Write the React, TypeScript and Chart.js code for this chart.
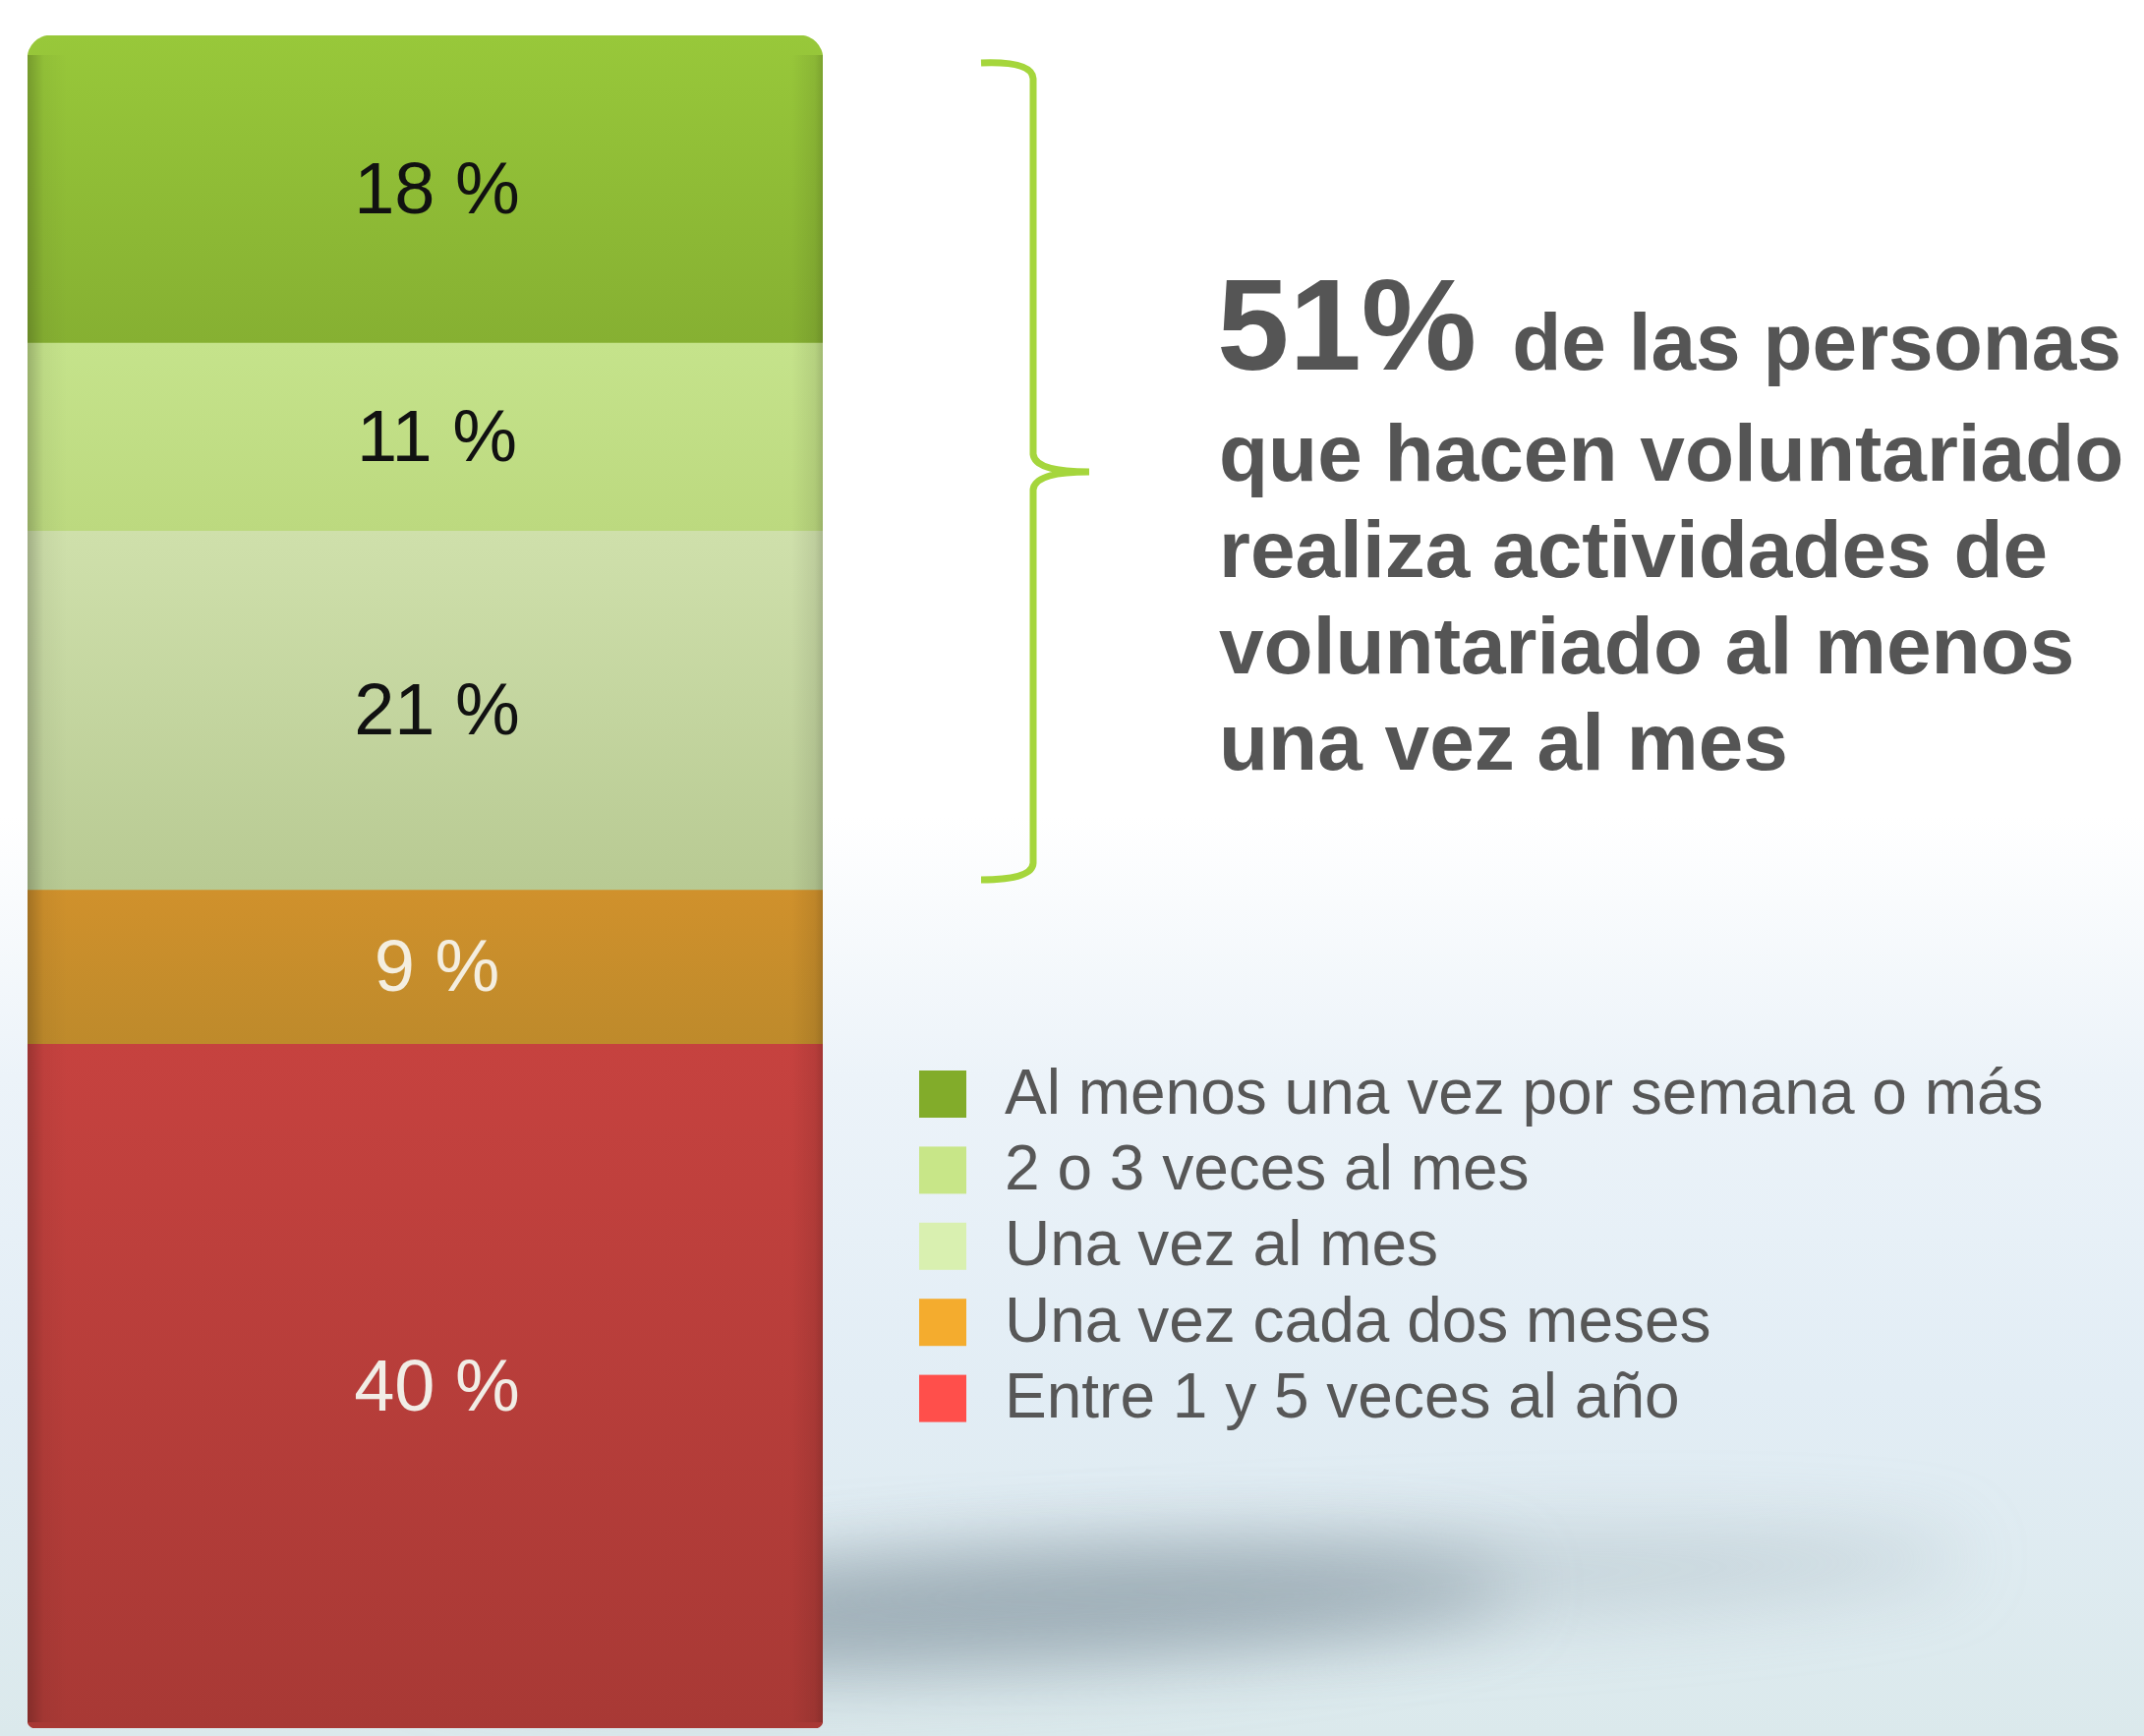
import React, { useEffect, useRef } from "react";
import { Chart, registerables } from "chart.js";

Chart.register(...registerables);

// ---- data ----
const categories = ["Frecuencia"];
// stacked from bottom to top
const seriesLabels = [
  "Entre 1 y 5 veces al año",
  "Una vez cada dos meses",
  "Una vez al mes",
  "2 o 3 veces al mes",
  "Al menos una vez por semana o más",
];
const seriesValues = [40, 9, 21, 11, 18];
const valueLabels = ["40 %", "9 %", "21 %", "11 %", "18 %"];
const barTopColors = ["#c6423f", "#d0912c", "#cfe0ab", "#c5e38b", "#98c83a"];
const barBottomColors = ["#a83935", "#be8a2b", "#b8ca93", "#bcd97f", "#86b032"];
const labelColors = ["#f1ede6", "#f4eee0", "#111111", "#111111", "#111111"];
const legendColors = ["#82ac2a", "#c8e688", "#d9f0b0", "#f4ac2e", "#ff4f4b"];
const legendLabels = [
  "Al menos una vez por semana o más",
  "2 o 3 veces al mes",
  "Una vez al mes",
  "Una vez cada dos meses",
  "Entre 1 y 5 veces al año",
];
const headlineBig = "51%";
const headlineRest = "de las personas";
const headlineLines = [
  "que hacen voluntariado",
  "realiza actividades de",
  "voluntariado al menos",
  "una vez al mes",
];
const yMax = 99;

const FONT = "'Liberation Sans', Helvetica, Arial, sans-serif";

export default function App() {
  const ref = useRef<HTMLCanvasElement | null>(null);

  useEffect(() => {
    document.body.style.margin = "0";
    const canvas = ref.current;
    if (!canvas) return;

    const cumulative = (i: number) =>
      seriesValues.slice(0, i).reduce((a, b) => a + b, 0);

    const backgroundPlugin = {
      id: "bg",
      beforeDraw(chart: any) {
        const { ctx, width, height } = chart;
        ctx.save();
        const g = ctx.createLinearGradient(0, 0, 0, height);
        g.addColorStop(0, "#ffffff");
        g.addColorStop(0.47, "#ffffff");
        g.addColorStop(0.62, "#ecf3f9");
        g.addColorStop(0.8, "#e2edf5");
        g.addColorStop(1, "#dbe9ec");
        ctx.fillStyle = g;
        ctx.fillRect(0, 0, width, height);
        // floor shadow
        ctx.filter = "blur(38px)";
        ctx.fillStyle = "rgba(110,128,140,0.55)";
        ctx.beginPath();
        ctx.ellipse(980, 1640, 560, 55, -0.05, 0, Math.PI * 2);
        ctx.fill();
        ctx.fillStyle = "rgba(150,165,175,0.35)";
        ctx.beginPath();
        ctx.ellipse(1350, 1610, 650, 45, -0.04, 0, Math.PI * 2);
        ctx.fill();
        ctx.filter = "none";
        ctx.restore();
      },
    };

    const overlayPlugin = {
      id: "overlay",
      afterDatasetsDraw(chart: any) {
        const { ctx } = chart;
        const metas = chart.getSortedVisibleDatasetMetas();
        // edge shading on bar
        const first = metas[0].data[0] as any;
        const last = metas[metas.length - 1].data[0] as any;
        const left = first.x - first.width / 2;
        const right = first.x + first.width / 2;
        const top = last.y;
        const bottom = first.base;
        ctx.save();
        const eg = ctx.createLinearGradient(left, 0, right, 0);
        eg.addColorStop(0, "rgba(0,0,0,0.22)");
        eg.addColorStop(0.02, "rgba(0,0,0,0.04)");
        eg.addColorStop(0.05, "rgba(0,0,0,0)");
        eg.addColorStop(0.96, "rgba(0,0,0,0)");
        eg.addColorStop(0.99, "rgba(0,0,0,0.08)");
        eg.addColorStop(1, "rgba(0,0,0,0.18)");
        ctx.fillStyle = eg;
        ctx.fillRect(left, top + 20, right - left, bottom - top - 26);
        ctx.restore();

        // value labels
        ctx.save();
        ctx.textAlign = "center";
        ctx.textBaseline = "middle";
        ctx.font = `74px ${FONT}`;
        metas.forEach((meta: any, i: number) => {
          const el = meta.data[0];
          const cy = (el.y + el.base) / 2;
          ctx.fillStyle = labelColors[i];
          ctx.fillText(valueLabels[i], el.x + 12, cy + 4);
        });
        ctx.restore();
      },
      afterDraw(chart: any) {
        const { ctx } = chart;
        ctx.save();
        // bracket
        ctx.strokeStyle = "#a5d63c";
        ctx.lineWidth = 7;
        ctx.lineCap = "butt";
        ctx.lineJoin = "round";
        ctx.beginPath();
        ctx.moveTo(998, 64);
        ctx.quadraticCurveTo(1050, 62, 1051, 80);
        ctx.lineTo(1051, 462);
        ctx.quadraticCurveTo(1053, 480, 1108, 480);
        ctx.moveTo(1108, 480);
        ctx.quadraticCurveTo(1053, 480, 1051, 498);
        ctx.lineTo(1051, 878);
        ctx.quadraticCurveTo(1050, 895, 998, 895);
        ctx.stroke();

        // headline
        ctx.fillStyle = "#555555";
        ctx.textAlign = "left";
        ctx.textBaseline = "alphabetic";
        ctx.font = `bold 132px ${FONT}`;
        ctx.fillText(headlineBig, 1238, 376);
        const bw = ctx.measureText(headlineBig).width;
        ctx.font = `bold 82px ${FONT}`;
        ctx.fillText(headlineRest, 1238 + bw + 36, 376);
        headlineLines.forEach((line, i) => {
          ctx.fillText(line, 1240, 489 + i * 98);
        });

        // legend
        ctx.font = `64px ${FONT}`;
        ctx.textBaseline = "middle";
        legendLabels.forEach((lab, i) => {
          const cy = 1113 + i * 77.4;
          ctx.fillStyle = legendColors[i];
          ctx.fillRect(935, cy - 24, 48, 48);
          ctx.fillStyle = "#575757";
          ctx.fillText(lab, 1022, cy + 2);
        });
        ctx.restore();
      },
    };

    const datasets = seriesValues.map((v, i) => ({
      label: seriesLabels[i],
      data: [v],
      backgroundColor: (c: any) => {
        const y = c.chart.scales?.y;
        if (!y) return barTopColors[i];
        const t = y.getPixelForValue(cumulative(i + 1));
        const b = y.getPixelForValue(cumulative(i));
        if (!isFinite(t) || !isFinite(b)) return barTopColors[i];
        const g = c.chart.ctx.createLinearGradient(0, t, 0, b);
        g.addColorStop(0, barTopColors[i]);
        g.addColorStop(1, barBottomColors[i]);
        return g;
      },
      borderWidth: 0,
      borderRadius:
        i === seriesValues.length - 1
          ? { topLeft: 24, topRight: 24, bottomLeft: 0, bottomRight: 0 }
          : i === 0
          ? { topLeft: 0, topRight: 0, bottomLeft: 8, bottomRight: 8 }
          : 0,
      borderSkipped: false as any,
      barPercentage: 1,
      categoryPercentage: 1,
    }));

    const chart = new Chart(canvas, {
      type: "bar",
      data: { labels: categories, datasets },
      options: {
        animation: false,
        responsive: true,
        maintainAspectRatio: false,
        layout: { padding: { left: 28, right: 1344, top: 36, bottom: 8 } },
        plugins: {
          legend: { display: false },
          tooltip: { enabled: false },
          title: { display: false },
        },
        scales: {
          x: { stacked: true, display: false },
          y: { stacked: true, display: false, min: 0, max: yMax },
        },
      },
      plugins: [backgroundPlugin, overlayPlugin],
    });
    return () => chart.destroy();
  }, []);

  return (
    <div style={{ position: "absolute", left: 0, top: 0, width: 2181, height: 1766 }}>
      <canvas ref={ref} />
    </div>
  );
}
